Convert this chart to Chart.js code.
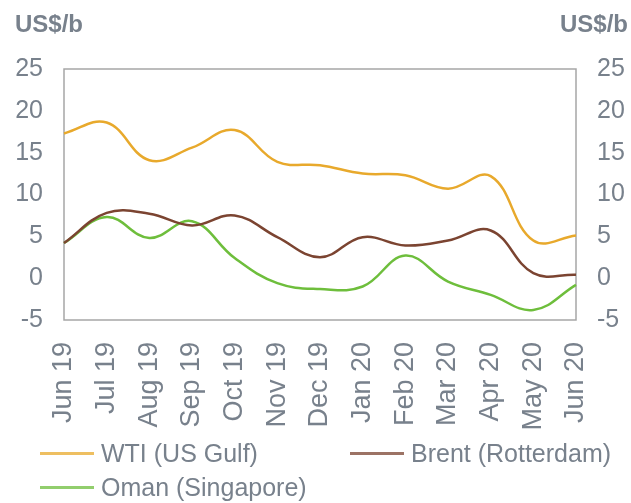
<!DOCTYPE html>
<html>
<head>
<meta charset="utf-8">
<script src="https://cdn.jsdelivr.net/npm/chart.js@4/dist/chart.umd.min.js"></script>
<style>
  body { margin: 0; background: #fff; }
  #wrap { position: relative; width: 631px; height: 503px; }
  #legend { position: absolute; left: 0; top: 0; font-family: "Liberation Sans", Arial, sans-serif; font-size: 25px; color: #78818c; }
  .item { position: absolute; display: flex; align-items: center; white-space: nowrap; }
  .item span.line { display: inline-block; width: 54px; height: 3px; margin-right: 7px; }
</style>
</head>
<body>
<div id="wrap">
  <canvas id="myChart" width="631" height="503"></canvas>
  <div id="legend"></div>
</div>
<script>
// months on the x axis
var mois = ['Jun 19', 'Jul 19', 'Aug 19', 'Sep 19', 'Oct 19', 'Nov 19', 'Dec 19',
            'Jan 20', 'Feb 20', 'Mar 20', 'Apr 20', 'May 20', 'Jun 20'];
// US$/b
var wti = [17.3, 18.6, 14.1, 15.6, 17.7, 13.9, 13.5, 12.5, 12.3, 10.7, 12.2, 4.5, 5.1];
var brent = [4.2, 7.8, 7.7, 6.3, 7.5, 4.9, 2.5, 4.9, 3.9, 4.5, 5.7, 0.6, 0.4];
var oman = [4.2, 7.3, 4.8, 6.8, 2.4, -0.6, -1.3, -1.0, 2.7, -0.4, -2.0, -3.8, -0.8];
var noms = ['WTI (US Gulf)', 'Brent (Rotterdam)', 'Oman (Singapore)'];
var yTicks = [-5, 0, 5, 10, 15, 20, 25];

var couleurs = ['#e8a92c', '#7b4431', '#6ebe3c'];
var gris = '#78818c';
var police = '"Liberation Sans", Arial, sans-serif';

const ctx = document.getElementById('myChart');

// frame around the plot + the two unit labels
const cadre = {
  id: 'cadre',
  beforeDatasetsDraw(chart) {
    const c = chart.ctx, a = chart.chartArea;
    c.save();
    c.strokeStyle = '#a6a6a6';
    c.lineWidth = 1.5;
    c.strokeRect(a.left, a.top, a.right - a.left, a.bottom - a.top);
    c.restore();
  },
  afterDraw(chart) {
    const c = chart.ctx;
    c.save();
    c.fillStyle = gris;
    c.font = 'bold 24px ' + police;
    c.textBaseline = 'middle';
    c.textAlign = 'left';
    c.fillText('US$/b', 15, 25);
    c.textAlign = 'right';
    c.fillText('US$/b', 628, 25);
    c.restore();
  }
};

function serie(label, data, i) {
  return {
    label: label,
    data: data,
    borderColor: couleurs[i],
    backgroundColor: couleurs[i],
    borderWidth: 2.5,
    pointRadius: 0,
    tension: 0.4,
    fill: false
  };
}

var chart1 = new Chart(ctx, {
  type: 'line',
  data: {
    labels: mois,
    datasets: [serie(noms[0], wti, 0), serie(noms[1], brent, 1), serie(noms[2], oman, 2)]
  },
  options: {
    responsive: false,
    animation: false,
    layout: { padding: { top: 69, bottom: 70, left: 0, right: 0 } },
    plugins: { legend: { display: false }, tooltip: { enabled: false } },
    scales: {
      x: {
        grid: { display: false },
        border: { display: false },
        ticks: {
          color: gris, font: { family: police, size: 27 },
          minRotation: 90, maxRotation: 90, padding: 14, autoSkip: false
        },
        afterFit(s) { s.height = 113; }
      },
      y: {
        position: 'left',
        min: -5, max: 25,
        grid: { display: false, drawTicks: false },
        border: { display: false },
        afterBuildTicks(s) { s.ticks = yTicks.map(v => ({ value: v })); },
        ticks: { color: gris, font: { family: police, size: 25 }, padding: 21 },
        afterFit(s) { s.width = 64; }
      },
      y1: {
        position: 'right',
        min: -5, max: 25,
        grid: { display: false, drawTicks: false },
        border: { display: false },
        afterBuildTicks(s) { s.ticks = yTicks.map(v => ({ value: v })); },
        ticks: { color: gris, font: { family: police, size: 25 }, padding: 21 },
        afterFit(s) { s.width = 55; }
      }
    }
  },
  plugins: [cadre]
});

// legend as html, two columns
var posLeg = [[40, 453], [350, 453], [40, 487]];
var leg = document.getElementById('legend');
noms.forEach(function (n, i) {
  var d = document.createElement('div');
  d.className = 'item';
  d.style.left = posLeg[i][0] + 'px';
  d.style.top = (posLeg[i][1] - 15) + 'px';
  d.style.height = '30px';
  d.innerHTML = '<span class="line" style="background:' + couleurs[i] + ';opacity:0.75"></span>';
  var t = document.createElement('span');
  t.textContent = n;
  d.appendChild(t);
  leg.appendChild(d);
});
</script>
</body>
</html>
